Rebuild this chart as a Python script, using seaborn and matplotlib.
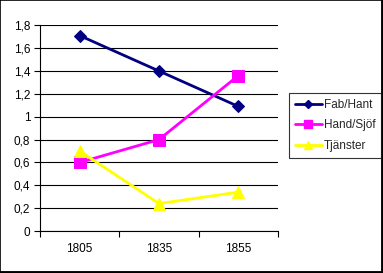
import matplotlib
matplotlib.use("Agg")
import matplotlib.pyplot as plt
import seaborn as sns
import pandas as pd
from matplotlib.lines import Line2D
from matplotlib.ticker import FuncFormatter, FixedLocator

years = ["1805", "1835", "1855"]
fab_hant = [1.71, 1.40, 1.09]
hand_sjof = [0.60, 0.80, 1.36]
tjanster = [0.70, 0.24, 0.34]
series_names = ["Fab/Hant", "Hand/Sjöf", "Tjänster"]
colors = ["#000080", "#FF00FF", "#FFFF00"]
markers = ["D", "s", "^"]
msizes = [6.5, 8, 8.5]
y_ticks = [0, 0.2, 0.4, 0.6, 0.8, 1.0, 1.2, 1.4, 1.6, 1.8]

rows = []
for name, vals in zip(series_names, [fab_hant, hand_sjof, tjanster]):
    for i, (yr, v) in enumerate(zip(years, vals)):
        rows.append({"pos": i, "year": yr, "value": v, "series": name})
df = pd.DataFrame(rows)

sns.set_theme(style="white")
plt.rcParams["font.family"] = ["Liberation Sans", "DejaVu Sans"]

fig = plt.figure(figsize=(3.83, 2.73), dpi=100)
ax = fig.add_axes([40 / 383, 1 - 231 / 273, 238 / 383, (231 - 25.3) / 273])

for name, c, m, ms in zip(series_names, colors, markers, msizes):
    sub = df[df["series"] == name]
    sns.lineplot(data=sub, x="pos", y="value", ax=ax, color=c, linewidth=2.0,
                 marker=m, markersize=ms, markeredgecolor=c, markerfacecolor=c,
                 sort=False, legend=False)

ax.set_xlim(-0.5, len(years) - 0.5)
ax.set_ylim(0, 1.8)
ax.set_xlabel("")
ax.set_ylabel("")
ax.set_xticks(range(len(years)))
ax.set_xticklabels(years)
ax.xaxis.set_minor_locator(FixedLocator([i - 0.5 for i in range(len(years) + 1)]))
ax.tick_params(axis="x", which="major", length=0, pad=9, labelsize=8.5, colors="black")
ax.tick_params(axis="x", which="minor", length=4, width=0.8, color="black", direction="out", bottom=True)
ax.set_yticks(y_ticks)
ax.yaxis.set_major_formatter(FuncFormatter(lambda v, p: ("%g" % round(v, 1)).replace(".", ",")))
ax.tick_params(axis="y", which="major", length=4, width=0.8, color="black", direction="out", left=True, labelsize=8.5, pad=3, labelcolor="black")
ax.yaxis.grid(True, color="black", linewidth=0.8)
ax.set_axisbelow(True)
for s in ["top", "right"]:
    ax.spines[s].set_visible(False)
for s in ["left", "bottom"]:
    ax.spines[s].set_color("black")
    ax.spines[s].set_linewidth(0.8)

handles = [Line2D([0], [0], color=c, marker=m, markersize=ms * 0.65, linewidth=2.0,
                  markeredgecolor=c, markerfacecolor=c)
           for c, m, ms in zip(colors, markers, msizes)]
leg = fig.legend(handles, series_names, loc="upper left",
                 bbox_to_anchor=(289 / 383, 1 - 93 / 273), fontsize=8.5,
                 frameon=True, fancybox=False, handlelength=2.3, handletextpad=0.15,
                 borderpad=0.5, borderaxespad=0, labelspacing=0.72)
leg.get_frame().set_edgecolor("black")
leg.get_frame().set_linewidth(0.8)

# figure border
fig.add_artist(Line2D([0, 0], [0, 1], transform=fig.transFigure, color="black", linewidth=1.2))
fig.add_artist(Line2D([0, 1], [1, 1], transform=fig.transFigure, color="black", linewidth=1.2))
fig.add_artist(Line2D([1, 1], [0, 1], transform=fig.transFigure, color="black", linewidth=3.5))
fig.add_artist(Line2D([0, 1], [0, 0], transform=fig.transFigure, color="black", linewidth=3.5))

fig.savefig("out.png", dpi=100)
